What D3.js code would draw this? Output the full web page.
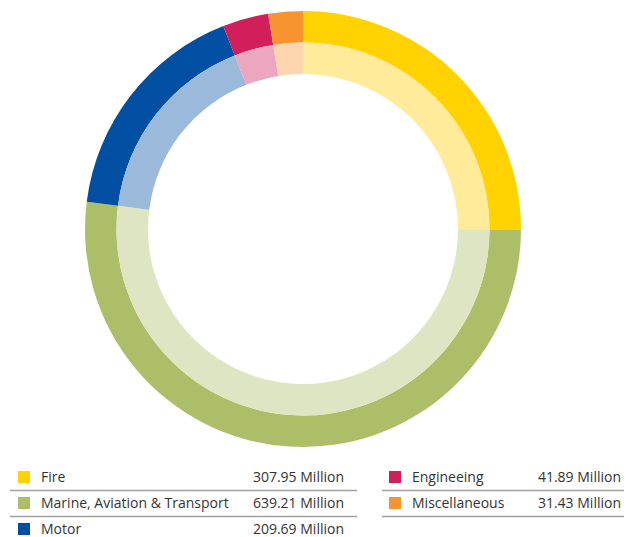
<!DOCTYPE html>
<html>
<head>
<meta charset="utf-8">
<script src="https://cdn.jsdelivr.net/npm/d3@7"></script>
<style>
  body { margin: 0; background: #fff; }
  svg { display: block; font-family: "Open Sans", "Noto Sans", sans-serif; }
</style>
</head>
<body>
<svg id="chart" width="626" height="537"></svg>
<script>
const categories = ["Fire", "Marine, Aviation & Transport", "Motor", "Engineeing", "Miscellaneous"];
const values = [307.95, 639.21, 209.69, 41.89, 31.43];
const valueLabels = ["307.95 Million", "639.21 Million", "209.69 Million", "41.89 Million", "31.43 Million"];
const colors = ["#ffd200", "#adbe68", "#004fa3", "#d31e5c", "#f7942f"];
const lightColors = ["#ffeb99", "#dee5c3", "#9bb9db", "#eca6c0", "#fcd4ad"];

const svg = d3.select("#chart");
const cx = 303, cy = 229;

const data = categories.map((name, i) => ({ name, value: values[i], i }));
const pie = d3.pie().sort(null).value((d) => d.value);
const arcs = pie(data);

const outerArc = d3.arc().innerRadius(186.5).outerRadius(218);
const innerArc = d3.arc().innerRadius(155).outerRadius(186.5);

const donut = svg.append("g").attr("transform", `translate(${cx},${cy})`);

donut.selectAll(".outer")
  .data(arcs)
  .join("path")
  .attr("class", "outer")
  .attr("d", outerArc)
  .attr("fill", (d) => colors[d.data.i]);

donut.selectAll(".inner")
  .data(arcs)
  .join("path")
  .attr("class", "inner")
  .attr("d", innerArc)
  .attr("fill", (d) => lightColors[d.data.i]);

// legend: two columns
const columns = [
  { x0: 10, x1: 357, sq: 18, label: 41, val: 344, items: [0, 1, 2] },
  { x0: 382, x1: 624, sq: 389, label: 412, val: 621, items: [3, 4] },
];
const rowY = [477, 503, 529];

const legend = svg.append("g").attr("class", "legend");
columns.forEach((col) => {
  const g = legend.append("g");
  const rows = g.selectAll("g.row")
    .data(col.items)
    .join("g")
    .attr("class", "row")
    .attr("transform", (d, k) => `translate(0,${rowY[k]})`);

  rows.append("rect")
    .attr("x", col.sq)
    .attr("y", -6)
    .attr("width", 12)
    .attr("height", 12)
    .attr("fill", (d) => colors[d]);

  rows.append("text")
    .attr("x", col.label)
    .attr("dy", "0.35em")
    .attr("font-size", 14)
    .attr("fill", "#333")
    .text((d) => categories[d]);

  rows.append("text")
    .attr("x", col.val)
    .attr("dy", "0.35em")
    .attr("text-anchor", "end")
    .attr("font-size", 14)
    .attr("fill", "#333")
    .text((d) => valueLabels[d]);

  g.selectAll("line")
    .data(col.items.slice(0, col.items.length === 3 ? 2 : 2))
    .join("line")
    .attr("x1", col.x0)
    .attr("x2", col.x1)
    .attr("y1", (d, k) => rowY[k] + 13.5)
    .attr("y2", (d, k) => rowY[k] + 13.5)
    .attr("stroke", "#a0a0a0")
    .attr("stroke-width", 1.5);
});
</script>
</body>
</html>
